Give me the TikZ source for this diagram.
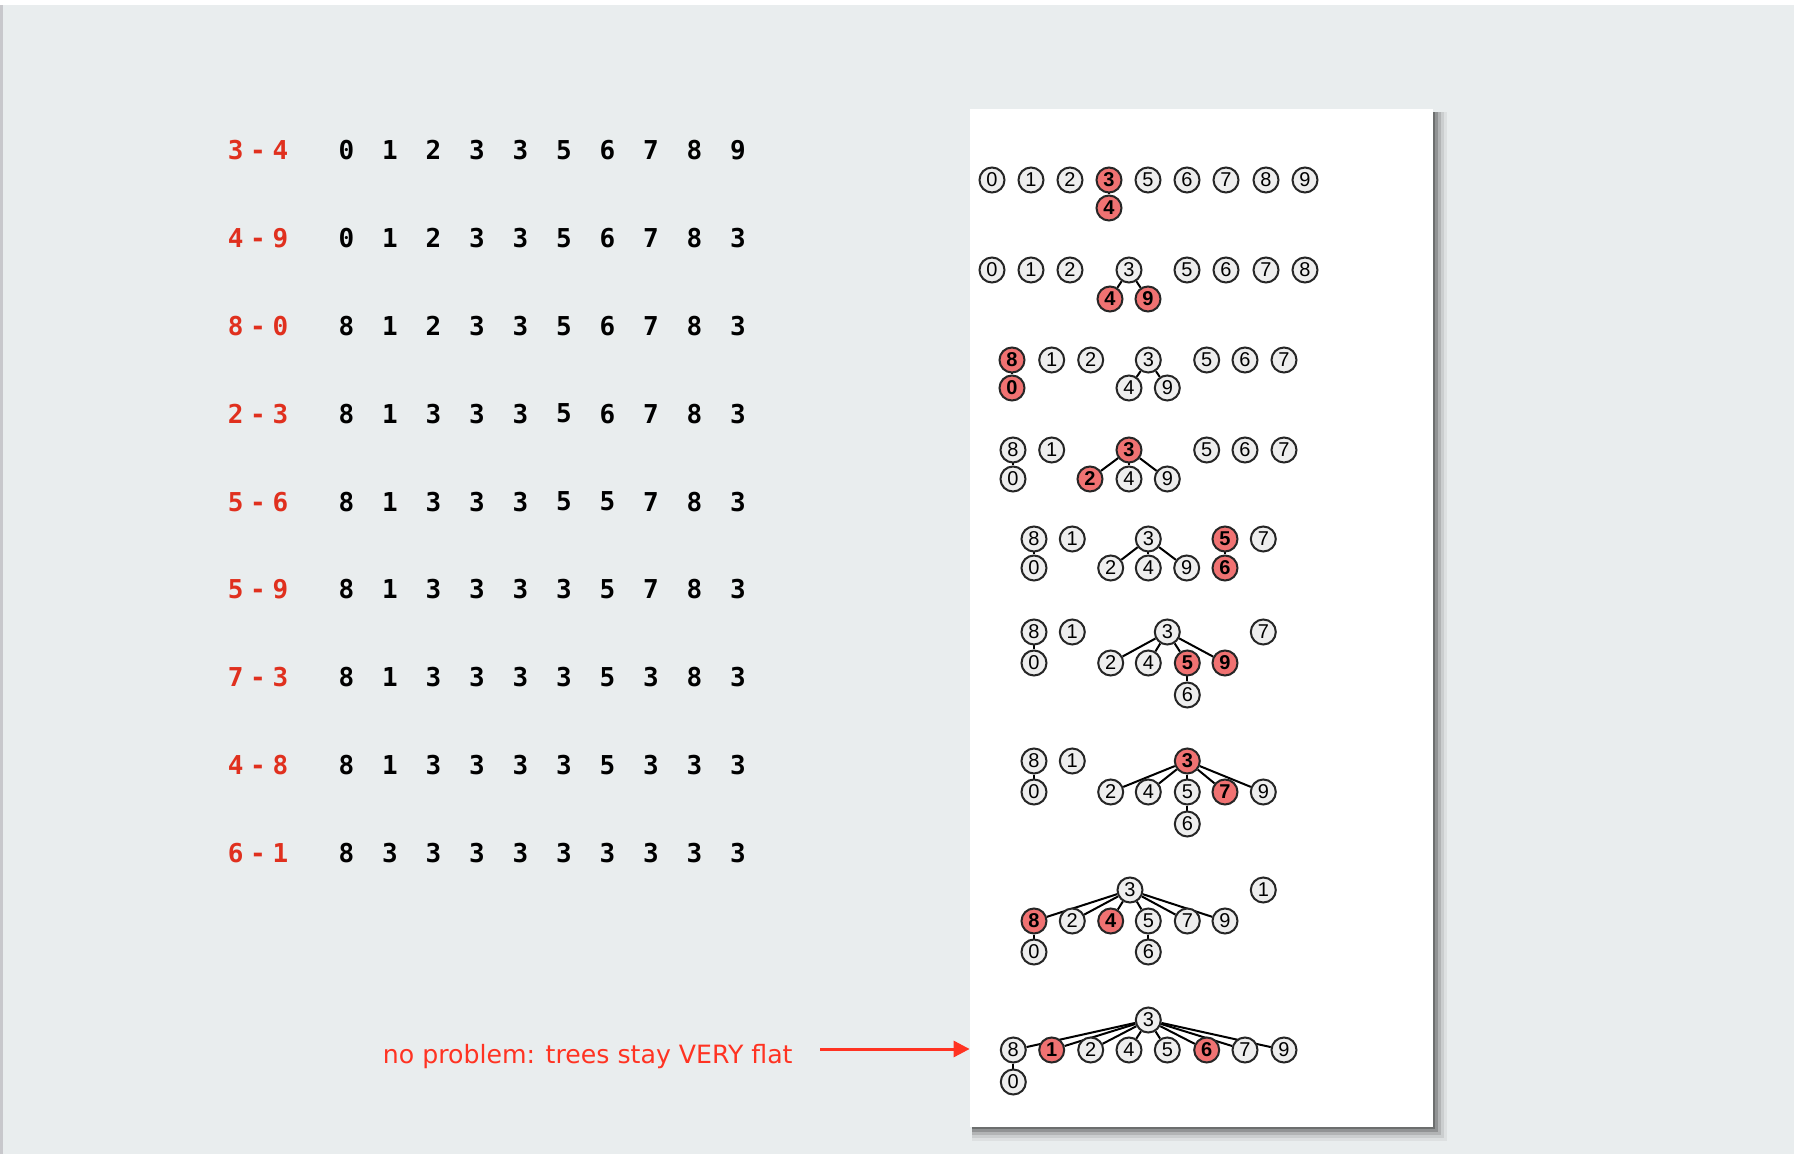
\documentclass[tikz,border=0pt]{standalone}
\usepackage{fontspec}
\setmainfont{Liberation Sans}
\newfontfamily\codefont{DejaVu Sans Mono}
\newfontfamily\opfont[LetterSpace=26]{DejaVu Sans Mono}
\newfontfamily\notefont{DejaVu Sans}
\usetikzlibrary{positioning,arrows.meta}

\definecolor{slidebg}{HTML}{E9EDEE}
\definecolor{edgeline}{HTML}{C8C8CC}
\definecolor{opred}{HTML}{E0301E}
\definecolor{notered}{HTML}{FF3322}
\definecolor{hotfill}{HTML}{F07272}
\definecolor{sitefill}{HTML}{EEEEEE}

\pgfdeclarelayer{back}
\pgfdeclarelayer{links}
\pgfsetlayers{back,links,main}

\tikzset{
  site/.style={circle, draw=black!85, line width=1pt, fill=sitefill, inner sep=0pt,
    minimum size=12.5pt, font=\fontsize{10}{10}\selectfont},
  hot/.style={site, fill=hotfill, font=\fontsize{10}{10}\selectfont\bfseries},
  link/.style={line width=1pt},
  op/.style={inner sep=0pt, text=opred, font=\opfont\bfseries\fontsize{13}{13}\selectfont},
  entry/.style={inner sep=0pt, font=\codefont\bfseries\fontsize{13}{13}\selectfont},
  note/.style={inner sep=0pt, text=notered, font=\notefont\fontsize{12.6}{12.6}\selectfont},
  notearrow/.style={notered, line width=1.5pt, -{Triangle[length=8pt,width=8pt]}},
  paper/.style={fill=white, draw=none, minimum width=231.5pt, minimum height=509pt, inner sep=0pt},
}

\begin{document}
\begin{tikzpicture}[x=0.5pt, y=-0.5pt, node distance=15pt, on grid]
\useasboundingbox (0,0) rectangle (1794,1154);

% slide and white panel
\begin{pgfonlayer}{back}
\fill[white] (0,0) rectangle (1794,5);
\fill[slidebg] (0,5) rectangle (1794,1154);
\fill[edgeline] (0,5) rectangle (2.5,1154);
\foreach \d/\o in {14/0.05, 11/0.08, 8/0.12, 5/0.18, 2/0.25}
  \fill[black, opacity=\o] (972,112) rectangle (1433+\d,1127+\d);
\node[paper] (panel) at (1201.5,618) {};
\end{pgfonlayer}

% id[] rows
\foreach \r/\ops/\vals in {
  1/3-4/{0,1,2,3,3,5,6,7,8,9},
  2/4-9/{0,1,2,3,3,5,6,7,8,3},
  3/8-0/{8,1,2,3,3,5,6,7,8,3},
  4/2-3/{8,1,3,3,3,5,6,7,8,3},
  5/5-6/{8,1,3,3,3,5,5,7,8,3},
  6/5-9/{8,1,3,3,3,3,5,7,8,3},
  7/7-3/{8,1,3,3,3,3,5,3,8,3},
  8/4-8/{8,1,3,3,3,3,5,3,3,3},
  9/6-1/{8,3,3,3,3,3,3,3,3,3}}{
  \pgfmathsetmacro\yy{150+87.9*(\r-1)}
  \node[op] (op\r) at (258,\yy) {\ops};
  \foreach \v [count=\k from 0] in \vals
    \node[entry] (id\r-\k) at (346.5+43.5*\k,\yy) {\v};
}

% 3-4
\foreach \n/\x in {0/992,1/1031,2/1070,5/1148,6/1187,7/1226,8/1266,9/1305}
  \node[site] (a\n) at (\x,180) {\n};
\node[hot] (a3) at (1109,180) {3};
\node[hot, below=14pt of a3] (a4) {4};

% 4-9
\foreach \n/\x in {0/992,1/1031,2/1070,3/1129,5/1187,6/1226,7/1266,8/1305}
  \node[site] (b\n) at (\x,270) {\n};
\node[hot] (b4) at (1110,299) {4};
\node[hot] (b9) at (1148,299) {9};

% 8-0
\foreach \n/\x in {1/1051.7,2/1090.7,3/1148.3,5/1206.7,6/1245,7/1284}
  \node[site] (c\n) at (\x,360) {\n};
\node[hot] (c8) at (1012,360) {8};
\node[hot, below=14pt of c8] (c0) {0};
\node[site] (c4) at (1129,388) {4};
\node[site] (c9) at (1167.3,388) {9};

% 2-3
\foreach \n/\x in {8/1013,1/1051.7,5/1206.7,6/1245,7/1284}
  \node[site] (d\n) at (\x,450) {\n};
\node[site, below=14.5pt of d8] (d0) {0};
\node[hot] (d3) at (1129,450) {3};
\node[hot] (d2) at (1090,479) {2};
\node[site, below=14.5pt of d3] (d4) {4};
\node[site] (d9) at (1167.3,479) {9};

% 5-6
\foreach \n/\x in {8/1034,1/1072.3,3/1148.3,7/1263.3}
  \node[site] (e\n) at (\x,539) {\n};
\node[site, below=14.5pt of e8] (e0) {0};
\node[site] (e2) at (1110.7,568) {2};
\node[site, below=14.5pt of e3] (e4) {4};
\node[site] (e9) at (1186.7,568) {9};
\node[hot] (e5) at (1225,539) {5};
\node[hot, below=14.5pt of e5] (e6) {6};

% 5-9
\foreach \n/\x in {8/1034,1/1072.3,3/1167.3,7/1263.3}
  \node[site] (f\n) at (\x,632) {\n};
\node[site, below=15.5pt of f8] (f0) {0};
\node[site] (f2) at (1110.7,663) {2};
\node[site] (f4) at (1148.3,663) {4};
\node[hot] (f5) at (1187.3,663) {5};
\node[hot] (f9) at (1225,663) {9};
\node[site, below=16pt of f5] (f6) {6};

% 7-3
\foreach \n/\x in {8/1034,1/1072.3}
  \node[site] (g\n) at (\x,761) {\n};
\node[site, below=15.5pt of g8] (g0) {0};
\node[hot] (g3) at (1187.3,761) {3};
\foreach \n/\x in {2/1110.7,4/1148.3,5/1187.3,9/1263.3}
  \node[site] (g\n) at (\x,792) {\n};
\node[hot] (g7) at (1225,792) {7};
\node[site, below=16pt of g5] (g6) {6};

% 4-8
\node[site] (h3) at (1130,890) {3};
\node[site] (h1) at (1263.3,890) {1};
\foreach \n/\x in {2/1072.3,5/1148.3,7/1187.3,9/1225}
  \node[site] (h\n) at (\x,921) {\n};
\node[hot] (h8) at (1034,921) {8};
\node[hot] (h4) at (1110.7,921) {4};
\node[site, below=15.5pt of h8] (h0) {0};
\node[site, below=15.5pt of h5] (h6) {6};

% 6-1
\node[site] (i3) at (1148.3,1020) {3};
\foreach \n/\x in {8/1013.3,2/1090.7,4/1129,5/1167.3,7/1245,9/1284}
  \node[site] (i\n) at (\x,1050) {\n};
\node[hot] (i1) at (1051.7,1050) {1};
\node[hot] (i6) at (1206.7,1050) {6};
\node[site, below=16pt of i8] (i0) {0};

% tree links
\begin{pgfonlayer}{links}
\draw[link] (a3) -- (a4);
\draw[link] (b3) -- (b4);
\draw[link] (b3) -- (b9);
\draw[link] (c8) -- (c0);
\draw[link] (c3) -- (c4);
\draw[link] (c3) -- (c9);
\draw[link] (d8) -- (d0);
\foreach \c in {2,4,9} \draw[link] (d3) -- (d\c);
\draw[link] (e8) -- (e0);
\foreach \c in {2,4,9} \draw[link] (e3) -- (e\c);
\draw[link] (e5) -- (e6);
\draw[link] (f8) -- (f0);
\foreach \c in {2,4,5,9} \draw[link] (f3) -- (f\c);
\draw[link] (f5) -- (f6);
\draw[link] (g8) -- (g0);
\foreach \c in {2,4,5,7,9} \draw[link] (g3) -- (g\c);
\draw[link] (g5) -- (g6);
\foreach \c in {8,2,4,5,7,9} \draw[link] (h3) -- (h\c);
\draw[link] (h8) -- (h0);
\draw[link] (h5) -- (h6);
\foreach \c in {8,1,2,4,5,6,7,9} \draw[link] (i3) -- (i\c);
\draw[link] (i8) -- (i0);
\end{pgfonlayer}

% remark
\node[note, anchor=base east] (note) at (793,1063) {no problem: trees stay VERY flat};
\coordinate (tail) at (820,1049);
\draw[notearrow] (tail) -- (tail -| panel.west);
\end{tikzpicture}
\end{document}
